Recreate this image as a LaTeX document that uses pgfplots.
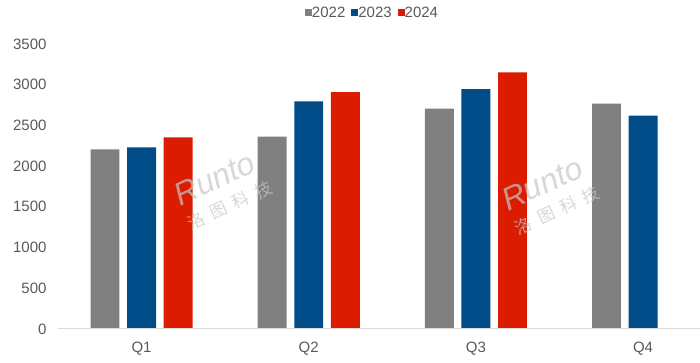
\documentclass[border=0pt]{standalone}
\usepackage{fontspec}
\setmainfont{Liberation Sans}
\newfontfamily\cjk{Noto Sans CJK SC}
\usepackage{pgfplots}
\pgfplotsset{compat=1.18}
\definecolor{cgray}{HTML}{808080}
\definecolor{cblue}{HTML}{004C88}
\definecolor{cred}{HTML}{DC1C00}
\definecolor{ctext}{HTML}{595959}
\definecolor{caxis}{HTML}{D9D9D9}
\begin{document}
\begin{tikzpicture}
\begin{axis}[
  at={(0,0)}, anchor=south west,
  scale only axis, width=642pt, height=285pt,
  xmin=-0.5, xmax=3.34, ymin=0, ymax=3500,
  ybar, bar width=0.173,
  xtick={0,1,2,3}, xticklabels={Q1,Q2,Q3,Q4},
  ytick distance=500,
  major tick length=0pt,
  axis line style={draw=none},
  font=\fontsize{15pt}{18pt}\selectfont,
  tick label style={text=ctext, font=\fontsize{15pt}{18pt}\selectfont},
  /pgf/number format/assume math mode=true,
  /pgf/number format/1000 sep={},
  yticklabel style={xshift=-8pt},
  xticklabel style={yshift=-10pt},
  legend style={draw=none, fill=none, at={(0.490,1.109)}, anchor=center,
    legend columns=-1, text=ctext, font=\fontsize{15pt}{18pt}\selectfont,
    /tikz/every even column/.append style={column sep=4pt},
    /tikz/every odd column/.append style={column sep=-2pt}},
  legend image code/.code={\fill[#1] (0pt,-3.5pt) rectangle (7pt,3.5pt);},
]
\addplot[fill=cgray, draw=none, bar shift=-0.219] coordinates {(0,2207) (1,2362) (2,2706) (3,2767)};
\addplot[fill=cblue, draw=none, bar shift=0] coordinates {(0,2231) (1,2796) (2,2947) (3,2620)};
\addplot[fill=cred, draw=none, bar shift=0.219] coordinates {(0,2354) (1,2910) (2,3152)};
\legend{2022,2023,2024}
\draw[caxis, line width=1pt] (rel axis cs:0,0) -- (rel axis cs:1,0);
\node[rotate=25, text=gray!45, opacity=0.7, align=left, font=\fontsize{32pt}{30pt}\selectfont\itshape] at (axis cs:0.484,1707) {Runto\\[-4pt]{\cjk\fontsize{17pt}{17pt}\selectfont\upshape 洛\ \ 图\ \ 科\ \ 技}};
\node[rotate=25, text=gray!45, opacity=0.7, align=left, font=\fontsize{32pt}{30pt}\selectfont\itshape] at (axis cs:2.445,1646) {Runto\\[-4pt]{\cjk\fontsize{17pt}{17pt}\selectfont\upshape 洛\ \ 图\ \ 科\ \ 技}};
\end{axis}
\useasboundingbox (-58pt,-34pt) rectangle (642pt,329pt);
\end{tikzpicture}
\end{document}
